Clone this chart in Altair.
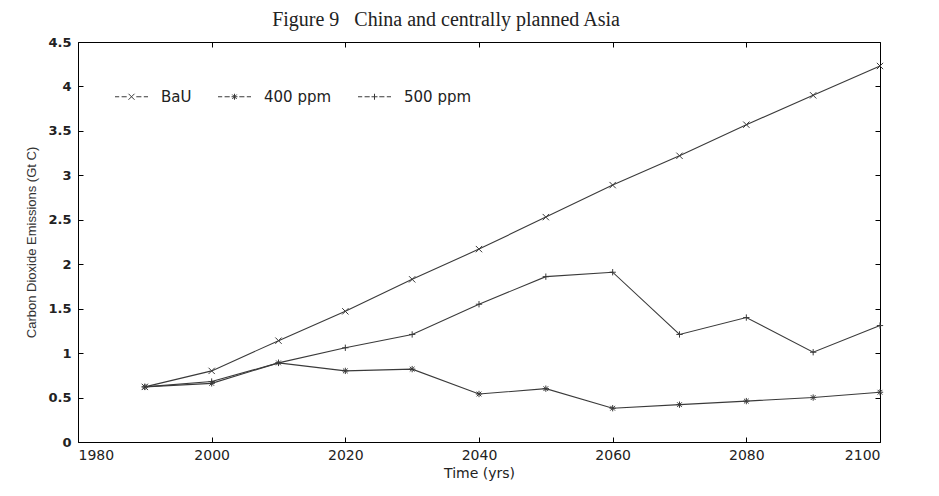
import altair as alt
import pandas as pd

# ---- data ----
years = [1990, 2000, 2010, 2020, 2030, 2040, 2050, 2060, 2070, 2080, 2090, 2100]
bau = [0.62, 0.80, 1.14, 1.47, 1.83, 2.17, 2.53, 2.89, 3.22, 3.57, 3.90, 4.23]
ppm400 = [0.62, 0.66, 0.89, 0.80, 0.82, 0.54, 0.60, 0.38, 0.42, 0.46, 0.50, 0.56]
ppm500 = [0.62, 0.68, 0.89, 1.06, 1.21, 1.55, 1.86, 1.91, 1.21, 1.40, 1.01, 1.31]
series_names = ["BaU", "400 ppm", "500 ppm"]
x_ticks = [1980, 2000, 2020, 2040, 2060, 2080, 2100]
y_ticks = [0, 0.5, 1, 1.5, 2, 2.5, 3, 3.5, 4, 4.5]

rows = []
for name, vals in zip(series_names, [bau, ppm400, ppm500]):
    for yr, v in zip(years, vals):
        rows.append({"year": yr, "value": v, "series": name})
df = pd.DataFrame(rows)

# ---- styling ----
W, H = 802, 400
ink = "#3a3a3a"
txt = "#222222"

marker_x = "M-1,-1L1,1M-1,1L1,-1"
marker_star = "M-1,0L1,0M0,-1L0,1M-0.75,-0.75L0.75,0.75M-0.75,0.75L0.75,-0.75"
marker_plus = "M-1,0L1,0M0,-1L0,1"
marker_paths = [marker_x, marker_star, marker_plus]
dashes = "M-5.5,0L-4.1,0M-3.3,0L-1.6,0M1.6,0L3.3,0M4.1,0L5.5,0"
legend_paths = [dashes + p for p in marker_paths]

x_scale = alt.Scale(domain=[1980, 2100], nice=False, zero=False)
y_scale = alt.Scale(domain=[0, 4.5], nice=False, zero=True)


def tick_axis(orient, offset, values):
    return alt.Axis(orient=orient, offset=offset, values=values, labels=False,
                    domain=False, ticks=True, tickSize=5, tickColor="black",
                    tickWidth=1, title=None, grid=False)


base = alt.Chart(df)

lines = base.mark_line(color=ink, strokeWidth=1.1).encode(
    x=alt.X("year:Q", scale=x_scale,
            axis=alt.Axis(orient="bottom", values=x_ticks, format="d", tickSize=0,
                          domain=False, grid=False, labelPadding=6,
                          labelFont="DejaVu Sans", labelFontSize=14, labelColor=txt,
                          title="Time (yrs)", titleFont="DejaVu Sans", titleFontSize=14,
                          titleFontWeight="normal", titleColor=txt, titlePadding=4)),
    y=alt.Y("value:Q", scale=y_scale,
            axis=alt.Axis(orient="left", values=y_ticks, format="~g", tickSize=0,
                          domain=False, grid=False, labelPadding=7,
                          labelFont="DejaVu Sans", labelFontSize=13, labelFontWeight="bold",
                          labelColor=txt,
                          title="Carbon Dioxide Emissions (Gt C)", titleFont="Liberation Sans",
                          titleFontSize=13, titleFontWeight="normal", titleColor="#333333",
                          titleAngle=270, titleBaseline="middle", titleX=-47, titleY=H / 2)),
    detail="series:N",
)

points = base.mark_point(filled=False, color=ink, size=40, strokeWidth=1, opacity=1).encode(
    x=alt.X("year:Q", scale=x_scale, axis=tick_axis("top", -H, x_ticks)),
    y=alt.Y("value:Q", scale=y_scale, axis=tick_axis("right", -W, y_ticks)),
    shape=alt.Shape("series:N", scale=alt.Scale(domain=series_names, range=marker_paths),
                    legend=None),
)

legend_layer = base.transform_filter("false").mark_point(
    filled=False, color=ink, size=36, strokeWidth=1, opacity=1
).encode(
    x=alt.X("year:Q", scale=x_scale, axis=tick_axis("bottom", -H, x_ticks)),
    y=alt.Y("value:Q", scale=y_scale, axis=tick_axis("left", -W, y_ticks)),
    shape=alt.Shape("series:N", scale=alt.Scale(domain=series_names, range=legend_paths),
                    legend=alt.Legend(title=None, orient="none", direction="horizontal",
                                      legendX=46, legendY=47, padding=0,
                                      symbolSize=36, symbolStrokeWidth=1,
                                      symbolStrokeColor=ink, symbolFillColor="transparent",
                                      labelFont="DejaVu Sans", labelFontSize=15,
                                      labelColor=txt, labelOffset=22, columnPadding=24)),
)

chart = alt.layer(lines, points, legend_layer).resolve_scale(
    shape="independent"
).resolve_axis(
    x="independent", y="independent"
).properties(
    width=W, height=H,
    autosize="none",
    padding={"left": 70, "top": 34, "right": 45, "bottom": 40},
    background="white",
    title=alt.TitleParams(
        text="Figure 9\u00a0\u00a0\u00a0China and centrally planned Asia",
        font="Liberation Serif", fontSize=20, fontWeight="normal", color=txt,
        anchor="middle", offset=6, dx=-33,
    ),
).configure_view(
    stroke="black", strokeWidth=1
)

chart.save("out.html", embed_options={"renderer": "svg", "actions": False})
